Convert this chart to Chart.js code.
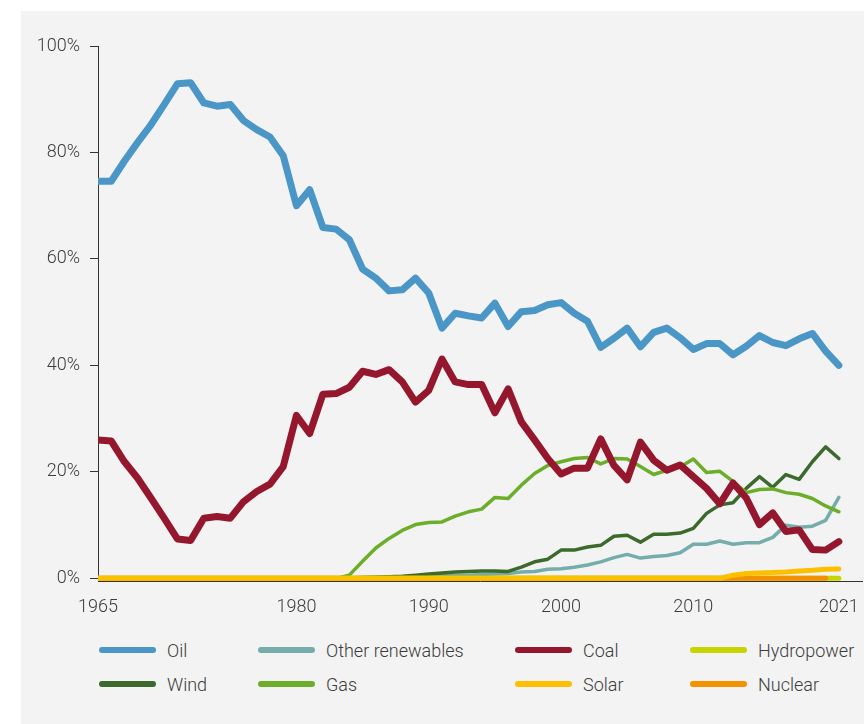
<!DOCTYPE html>
<html>
<head>
<meta charset="utf-8">
<title>Energy mix</title>
<script src="https://cdn.jsdelivr.net/npm/chart.js@4.4.1/dist/chart.umd.min.js"></script>
<style>
  body { margin: 0; background: #fff; font-family: Roboto, "Open Sans", sans-serif; }
  #panel { position: absolute; left: 21px; top: 11px; width: 843px; height: 713px; background: #f3f3f3; }
  #wrap { position: absolute; left: 0; top: 0; width: 864px; height: 620px; }
  #legend {
    position: absolute; left: 99px; top: 633px;
    display: grid; grid-template-columns: 159px 257px 175px auto; grid-auto-rows: 34px;
    font-size: 18px; font-weight: 300; color: #3c3c3c;
  }
  .item { display: flex; align-items: center; white-space: nowrap; }
  .swatch { width: 57px; height: 6px; border-radius: 3px; margin-right: 11px; }
</style>
</head>
<body>
<div id="panel"></div>
<div id="wrap"><canvas id="chart" width="864" height="620"></canvas></div>
<div id="legend"></div>

<script>
// years on the x axis
const years = [
  1965, 1966, 1967, 1968, 1969, 1970, 1971, 1972, 1973, 1974,
  1975, 1976, 1977, 1978, 1979, 1980, 1981, 1982, 1983, 1984,
  1985, 1986, 1987, 1988, 1989, 1990, 1991, 1992, 1993, 1994,
  1995, 1996, 1997, 1998, 1999, 2000, 2001, 2002, 2003, 2004,
  2005, 2006, 2007, 2008, 2009, 2010, 2011, 2012, 2013, 2014,
  2015, 2016, 2017, 2018, 2019, 2020, 2021
];

// share of each source, %
const oil = [
  74.6, 74.6, 78.4, 81.9, 85.2, 89.0, 92.9, 93.1, 89.3, 88.7,
  89.0, 86.0, 84.3, 82.9, 79.4, 70.0, 73.0, 65.9, 65.6, 63.6,
  58.1, 56.4, 54.0, 54.2, 56.4, 53.6, 47.0, 49.8, 49.3, 48.9,
  51.7, 47.3, 50.1, 50.3, 51.4, 51.8, 49.8, 48.3, 43.4, 45.1,
  47.0, 43.5, 46.2, 47.0, 45.2, 43.0, 44.1, 44.1, 42.0, 43.6,
  45.6, 44.3, 43.7, 45.0, 46.0, 42.7, 40.0
];
const coal = [
  26.0, 25.8, 21.9, 18.8, 15.1, 11.3, 7.4, 7.1, 11.3, 11.6,
  11.3, 14.4, 16.3, 17.7, 21.0, 30.6, 27.2, 34.6, 34.7, 35.9,
  38.9, 38.3, 39.2, 36.9, 33.1, 35.3, 41.2, 36.9, 36.4, 36.4,
  31.1, 35.6, 29.4, 26.0, 22.5, 19.6, 20.7, 20.7, 26.2, 21.2,
  18.5, 25.6, 22.2, 20.3, 21.3, 19.1, 16.9, 14.0, 17.9, 15.1,
  10.1, 12.3, 8.8, 9.1, 5.4, 5.3, 6.9
];
const gas = [
  0, 0, 0, 0, 0, 0, 0, 0, 0, 0,
  0, 0, 0, 0, 0, 0, 0, 0, 0, 0.6,
  3.2, 5.7, 7.5, 9.0, 10.1, 10.5, 10.6, 11.7, 12.5, 13.0,
  15.2, 15.0, 17.5, 19.7, 21.2, 21.9, 22.5, 22.7, 21.5, 22.5,
  22.4, 21.0, 19.5, 20.3, 20.9, 22.4, 19.9, 20.1, 18.2, 16.1,
  16.7, 16.8, 16.1, 15.8, 15.0, 13.6, 12.5
];
const wind = [
  0, 0, 0, 0, 0, 0, 0, 0, 0, 0,
  0, 0, 0, 0, 0, 0, 0, 0, 0, 0,
  0.1, 0.2, 0.3, 0.4, 0.6, 0.8, 1.0, 1.2, 1.3, 1.4,
  1.4, 1.3, 2.1, 3.1, 3.6, 5.3, 5.3, 5.9, 6.2, 7.9,
  8.1, 6.8, 8.3, 8.3, 8.5, 9.4, 12.2, 13.8, 14.2, 16.9,
  19.1, 17.1, 19.5, 18.6, 21.9, 24.7, 22.5
];
const otherRenewables = [
  0, 0, 0, 0, 0, 0, 0, 0, 0, 0,
  0, 0, 0, 0, 0, 0, 0, 0, 0, 0,
  0.2, 0.2, 0.3, 0.3, 0.4, 0.5, 0.5, 0.6, 0.6, 0.7,
  0.8, 0.9, 1.2, 1.3, 1.7, 1.8, 2.1, 2.5, 3.1, 3.9,
  4.5, 3.8, 4.1, 4.3, 4.8, 6.4, 6.4, 7.0, 6.4, 6.7,
  6.7, 7.7, 10.0, 9.6, 9.8, 10.9, 15.2
];
const solar = [
  0, 0, 0, 0, 0, 0, 0, 0, 0, 0,
  0, 0, 0, 0, 0, 0, 0, 0, 0, 0,
  0, 0, 0, 0, 0, 0, 0, 0, 0, 0,
  0, 0, 0, 0, 0, 0, 0, 0, 0, 0,
  0, 0, 0, 0, 0, 0, 0, 0, 0.6, 0.9,
  1.0, 1.1, 1.2, 1.4, 1.5, 1.7, 1.75
];
const nuclear = [
  0, 0, 0, 0, 0, 0, 0, 0, 0, 0,
  0, 0, 0, 0, 0, 0, 0, 0, 0, 0,
  0, 0, 0, 0, 0, 0, 0, 0, 0, 0,
  0, 0, 0, 0, 0, 0, 0, 0, 0, 0,
  0, 0, 0, 0, 0, 0, 0, 0, 0, 0,
  0, 0, 0, 0, 0, 0, null
];
const hydropower = [
  0, 0, 0, 0, 0, 0, 0, 0, 0, 0,
  0, 0, 0, 0, 0, 0, 0, 0, 0, 0,
  0, 0, 0, 0, 0, 0, 0, 0, 0, 0,
  0, 0, 0, 0, 0, 0, 0, 0, 0, 0,
  0, 0, 0, 0, 0, 0, 0, 0, 0, 0,
  0, 0, 0, 0, 0, 0, 0
];

const xTickYears = [1965, 1980, 1990, 2000, 2010, 2021];
const yTickValues = [0, 20, 40, 60, 80, 100];

// legend reads row by row
const legendOrder = ["Oil", "Other renewables", "Coal", "Hydropower", "Wind", "Gas", "Solar", "Nuclear"];

// first entry is drawn on top
const series = [
  { label: "Solar", data: solar, color: "#fcc000", width: 5 },
  { label: "Nuclear", data: nuclear, color: "#f39200", width: 5 },
  { label: "Hydropower", data: hydropower, color: "#c8d400", width: 5 },
  { label: "Oil", data: oil, color: "#4a96c6", width: 7 },
  { label: "Coal", data: coal, color: "#95172e", width: 7 },
  { label: "Gas", data: gas, color: "#6cae2a", width: 3.5 },
  { label: "Wind", data: wind, color: "#3c6a2c", width: 3.5 },
  { label: "Other renewables", data: otherRenewables, color: "#74adab", width: 3.5 }
];

const textColor = "#3c3c3c";
const axisColor = "#333333";

Chart.defaults.font.family = "Roboto, 'Open Sans', sans-serif";
Chart.defaults.font.weight = "300";
Chart.defaults.font.size = 18;
Chart.defaults.color = textColor;

const datasets = series.map((s) => ({
  label: s.label,
  data: years.map((yr, i) => ({ x: yr, y: s.data[i] })),
  borderColor: s.color,
  backgroundColor: s.color,
  borderWidth: s.width,
  borderJoinStyle: "round",
  borderCapStyle: "round",
  pointRadius: 0,
  pointHoverRadius: 0,
  tension: 0,
  fill: false,
  spanGaps: false
}));

const ctx = document.getElementById("chart").getContext("2d");
const chart = new Chart(ctx, {
  type: "line",
  data: { datasets },
  options: {
    responsive: false,
    animation: false,
    layout: { autoPadding: false, padding: { top: 46, left: 0, right: 2, bottom: 0 } },
    plugins: {
      legend: { display: false },
      tooltip: { enabled: false }
    },
    scales: {
      x: {
        type: "linear",
        min: 1965,
        max: 2022.75,
        afterBuildTicks: (scale) => {
          scale.ticks = xTickYears.map((v) => ({ value: v }));
        },
        afterFit: (scale) => { scale.height = 39; },
        ticks: {
          padding: 2,
          maxRotation: 0,
          autoSkip: false,
          font: { size: 18 },
          callback: (v) => String(v)
        },
        grid: {
          drawOnChartArea: false,
          tickLength: 14,
          color: "rgba(0,0,0,0)"
        },
        border: { display: true, color: axisColor, width: 1 }
      },
      y: {
        min: -0.5,
        max: 100,
        afterBuildTicks: (scale) => {
          scale.ticks = yTickValues.map((v) => ({ value: v }));
        },
        afterFit: (scale) => { scale.width = 98; },
        ticks: {
          padding: 10,
          font: { size: 18 },
          callback: (v) => v + "%"
        },
        grid: {
          drawOnChartArea: false,
          tickLength: 8,
          color: axisColor
        },
        border: { display: true, color: axisColor, width: 1 }
      }
    }
  }
});

// html legend, laid out in a 4 column grid like the reference
const legendEl = document.getElementById("legend");
legendOrder.forEach((name) => {
  const ds = chart.data.datasets.find((d) => d.label === name);
  const item = document.createElement("div");
  item.className = "item";
  const sw = document.createElement("span");
  sw.className = "swatch";
  sw.style.background = ds.borderColor;
  const txt = document.createElement("span");
  txt.textContent = name;
  item.appendChild(sw);
  item.appendChild(txt);
  legendEl.appendChild(item);
});
</script>
</body>
</html>
